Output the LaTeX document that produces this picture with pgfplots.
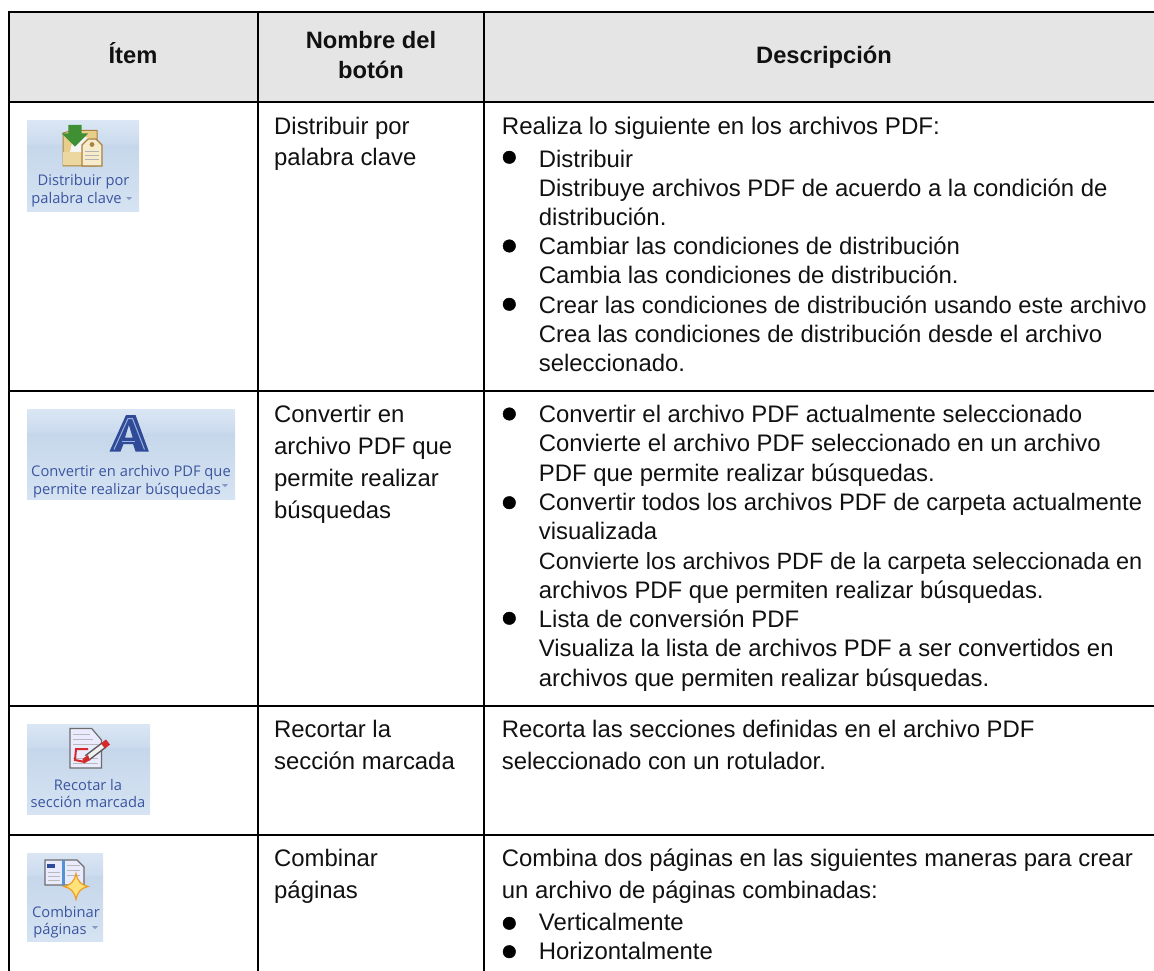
\documentclass[border=0pt]{standalone}
\usepackage{fontspec}
\setmainfont{Liberation Sans}
\newfontfamily\iconfont{Open Sans}
\usepackage{pgfplots}
\pgfplotsset{compat=1.18}
\definecolor{hdr}{HTML}{E5E5E5}
\definecolor{tx}{HTML}{111111}
\definecolor{ictx}{HTML}{3B55A0}
\definecolor{bgA}{HTML}{DAE6F4}
\definecolor{bgB}{HTML}{CADAED}
\definecolor{bgC}{HTML}{C6D7EB}
\definecolor{bgD}{HTML}{D5E3F2}
\definecolor{foldb}{HTML}{E9CD8A}
\definecolor{foldl}{HTML}{A8823F}
\definecolor{tagf}{HTML}{F6EBCB}
\definecolor{grnc}{HTML}{3F8F34}
\definecolor{adark}{HTML}{2F4A96}
\definecolor{alite}{HTML}{9DB2E0}
\definecolor{starf}{HTML}{FFE27A}
\definecolor{starl}{HTML}{EE9E22}
\definecolor{redmk}{HTML}{D42A2A}
\newcommand{\TL}[4][23.9]{\node[anchor=base west,inner sep=0pt,text=tx,font=\fontsize{#1}{28}\selectfont] at (#2,#3) {#4};}
\newcommand{\HL}[3]{\node[anchor=base,inner sep=0pt,text=tx,font=\fontsize{23.7}{28}\selectfont\bfseries] at (#1,#2) {#3};}
\newcommand{\IL}[3]{\node[anchor=base,inner sep=0pt,text=ictx,font=\fontsize{14.7}{18}\iconfont] at (#1,#2) {#3};}
\newcommand{\Bg}[4]{%
  \fill[top color=bgA,bottom color=bgB,draw=none] (#1,#3) rectangle (#2,{#3+0.27*(#4-#3)});
  \fill[top color=bgC,bottom color=bgD,draw=none] (#1,{#3+0.27*(#4-#3)}) rectangle (#2,#4);}
\newcommand{\Caret}[2]{\fill[color=ictx!60] (#1,#2) -- ({#1+6},#2) -- ({#1+3},{#2+3}) -- cycle;}
\begin{document}
\begin{tikzpicture}
\useasboundingbox (0,0) rectangle (1154pt,971pt);
\begin{axis}[
  at={(0,0)},anchor=south west,scale only axis,width=1154pt,height=971pt,
  xmin=0,xmax=1154,ymin=0,ymax=971,y dir=reverse,hide axis,clip=true]
% header band
\addplot[draw=none,fill=hdr,forget plot] coordinates {(9,12) (1154,12) (1154,102) (9,102)} -- cycle;
% table rules
\addplot[black,line width=1.8pt,forget plot] coordinates {(8.7,11.7) (1154,11.7)};
\addplot[black,line width=1.8pt,forget plot] coordinates {(8.7,102.3) (1154,102.3)};
\addplot[black,line width=1.8pt,forget plot] coordinates {(8.7,391) (1154,391)};
\addplot[black,line width=1.8pt,forget plot] coordinates {(8.7,705.7) (1154,705.7)};
\addplot[black,line width=1.8pt,forget plot] coordinates {(8.7,835) (1154,835)};
\addplot[black,line width=1.8pt,forget plot] coordinates {(8.7,11) (8.7,971)};
\addplot[black,line width=1.8pt,forget plot] coordinates {(257.8,11) (257.8,971)};
\addplot[black,line width=1.8pt,forget plot] coordinates {(483.7,11) (483.7,971)};
% bullets
\addplot[only marks,mark=*,mark size=6.3pt,mark options={fill=black,draw=none},forget plot] coordinates {
 (509.3,157.3) (509.3,246) (509.3,304.3) (509.3,414) (509.3,502.7) (509.3,618.3) (509.3,923.3) (509.3,951.7)};
% header text
\HL{133}{64}{Ítem}
\HL{371}{48.3}{Nombre del}
\HL{371}{78.3}{botón}
\HL{824}{64}{Descripción}
% column 2
\TL{274}{134.3}{Distribuir por}
\TL{274}{166}{palabra clave}
\TL{274}{422.3}{Convertir en}
\TL{274}{454.3}{archivo PDF que}
\TL{274}{486.7}{permite realizar}
\TL{274}{518.3}{búsquedas}
\TL{274}{737.3}{Recortar la}
\TL{274}{769.3}{sección marcada}
\TL{274}{866.7}{Combinar}
\TL{274}{898.3}{páginas}
% column 3
\TL[24.1]{501.7}{134.3}{Realiza lo siguiente en los archivos PDF:}
\TL{538.7}{167.7}{Distribuir}
\TL{538.7}{196}{Distribuye archivos PDF de acuerdo a la condición de}
\TL{538.7}{225.7}{distribución.}
\TL{538.7}{254.3}{Cambiar las condiciones de distribución}
\TL{538.7}{283.7}{Cambia las condiciones de distribución.}
\TL[23.77]{538.7}{313}{Crear las condiciones de distribución usando este archivo}
\TL{538.7}{342.3}{Crea las condiciones de distribución desde el archivo}
\TL{538.7}{371.7}{seleccionado.}
\TL{538.7}{422.3}{Convertir el archivo PDF actualmente seleccionado}
\TL{538.7}{451.7}{Convierte el archivo PDF seleccionado en un archivo}
\TL{538.7}{481}{PDF que permite realizar búsquedas.}
\TL[23.8]{538.7}{510}{Convertir todos los archivos PDF de carpeta actualmente}
\TL{538.7}{539.3}{visualizada}
\TL[23.5]{538.7}{569.3}{Convierte los archivos PDF de la carpeta seleccionada en}
\TL{538.7}{598.3}{archivos PDF que permiten realizar búsquedas.}
\TL{538.7}{627.7}{Lista de conversión PDF}
\TL{538.7}{656.7}{Visualiza la lista de archivos PDF a ser convertidos en}
\TL{538.7}{686}{archivos que permiten realizar búsquedas.}
\TL{501.7}{737.3}{Recorta las secciones definidas en el archivo PDF}
\TL{501.7}{769.3}{seleccionado con un rotulador.}
\TL{501.7}{866.7}{Combina dos páginas en las siguientes maneras para crear}
\TL{501.7}{898.3}{un archivo de páginas combinadas:}
\TL{538.7}{930}{Verticalmente}
\TL{538.7}{959.3}{Horizontalmente}
% --- icon 1
\Bg{27}{139}{121}{211}
\filldraw[fill=foldb,draw=foldl,line width=1pt] (63,133) -- (72,130.5) -- (97,130.5) -- (97,166) -- (63,166) -- cycle;
\fill[white!92!gray] (70,152) -- (72,143) -- (85,137) -- (95,140) -- (95,155) -- cycle;
\fill[foldb!80!white] (63,152) -- (82,152) -- (82,165) -- (63,165) -- cycle;
\fill[grnc] (68.3,125) -- (81.7,125) -- (81.7,133.3) -- (88.3,133.3) -- (75,146.7) -- (61.7,133.3) -- (68.3,133.3) -- cycle;
\filldraw[fill=tagf,draw=foldl,line width=1.1pt] (82,145) -- (88,139) -- (96,139) -- (102,145) -- (102,166) -- (82,166) -- cycle;
\fill[foldl] (92,144.5) circle[radius=2.4];
\draw[gray!60,line width=.6pt] (85,151) -- (99,151) (85,155) -- (99,155) (85,159) -- (99,159);
\IL{83.5}{185.7}{Distribuir por}
\IL{76.5}{204}{palabra clave}
\Caret{126}{197}
% --- icon 2
\Bg{27}{235}{409}{499}
\fill[adark,even odd rule] (109.5,451.5) -- (126,415) -- (135.5,415) -- (148.8,451.5) -- (135.5,451.5) -- (133,444) -- (123.5,444) -- (120.5,451.5) -- cycle (128.9,425) -- (125,437.5) -- (132.7,437.5) -- cycle;
\draw[alite,line width=1pt] (114,449.5) -- (128,418.5) -- (132.5,418.5) -- (144.5,449.5);
\draw[alite,line width=.8pt] (122,441) -- (135,441);
\IL{131}{476}{Convertir en archivo PDF que}
\IL{127}{494}{permite realizar búsquedas}
\Caret{222}{484}
% --- icon 3
\Bg{27}{150}{724}{814}
\filldraw[fill=white!92!blue,draw=gray!85!black,line width=1.2pt] (70,728.5) -- (91.7,728.5) -- (101.5,740) -- (101.5,768) -- (70,768) -- cycle;
\draw[gray!55,line width=.8pt] (73,734) -- (90,734) (73,739) -- (93,739) (73,744) -- (98,744) (73,758) -- (98,758) (73,763) -- (98,763);
\draw[redmk,line width=2pt] (88,749) -- (76,749) -- (75,760) -- (85,762);
\draw[gray!70!black,line width=7pt] (87,758) -- (104,745);
\draw[white!88!gray,line width=4pt] (87,758) -- (104,745);
\draw[redmk,line width=6.5pt] (103,746) -- (108,742);
\fill[redmk] (84,763.5) -- (82.5,759) -- (88,755) -- (90,760) -- cycle;
\IL{88}{790}{Recotar la}
\IL{88}{807.5}{sección marcada}
% --- icon 4
\Bg{27}{103}{853}{941}
\filldraw[fill=white!92!blue,draw=gray!85!black,line width=1.2pt] (45,860) -- (77,860) -- (84,867) -- (84,885) -- (45,885) -- cycle;
\fill[cyan!55!blue!70!white] (62,860) rectangle (65,885);
\fill[adark] (47.3,864) rectangle (55,868.3);
\draw[gray!55,line width=.8pt] (48,872) -- (60,872) (48,876) -- (60,876) (48,880) -- (60,880) (67,865) -- (80,865) (67,870) -- (80,870) (67,875) -- (80,875);
\filldraw[fill=starf,draw=starl,line width=1.2pt] (76,873.5) .. controls (77.5,881) and (81,885) .. (88,886.5) .. controls (81,888) and (77.5,892) .. (76,899.5) .. controls (74.5,892) and (71,888) .. (64,886.5) .. controls (71,885) and (74.5,881) .. (76,873.5) -- cycle;
\IL{66}{917}{Combinar}
\IL{60}{934}{páginas}
\Caret{92}{926}
\end{axis}
\end{tikzpicture}
\end{document}
